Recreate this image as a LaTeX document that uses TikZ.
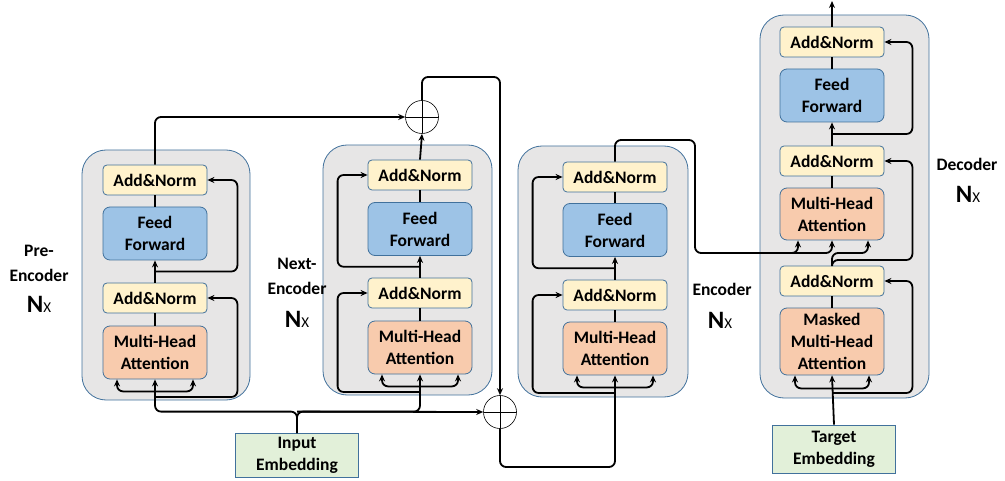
\documentclass[tikz,border=0pt]{standalone}
\usepackage{fontspec}
\setmainfont{Carlito}
\usetikzlibrary{arrows.meta,calc}
\definecolor{blkfill}{HTML}{E7E6E6}
\definecolor{bord}{HTML}{41719C}
\definecolor{anfill}{HTML}{FFF2CC}
\definecolor{fffill}{HTML}{9DC3E6}
\definecolor{mhfill}{HTML}{F8CBAD}
\definecolor{emfill}{HTML}{E2F0D9}
\newcommand\mynx{{\fontsize{25}{25}\selectfont\bfseries N}{\fontsize{15}{15}\selectfont X}}
\begin{document}
\begin{tikzpicture}[x=1pt,y=-1pt,
  box/.style={draw=bord, line width=0.8pt, rounded corners=4pt, minimum width=104pt, align=center, font=\fontsize{17.5}{22}\selectfont\bfseries, inner sep=0pt},
  an/.style={box, fill=anfill, minimum height=30pt},
  ffb/.style={box, fill=fffill, minimum height=53pt, rounded corners=7pt},
  mh/.style={box, fill=mhfill, minimum height=53pt, rounded corners=7pt},
  blkbox/.style={draw=bord, fill=blkfill, line width=0.8pt, rounded corners=24pt, inner sep=0pt},
  embbox/.style={draw=bord, fill=emfill, line width=0.8pt, minimum width=123pt, minimum height=44pt, align=center, font=\fontsize{17.5}{22}\selectfont\bfseries, inner sep=0pt},
  arr/.style={-{Stealth[length=7pt,width=6pt]}, line width=1.8pt, rounded corners=6pt},
  ln/.style={line width=1.8pt},
  lab/.style={font=\fontsize{17.5}{25}\selectfont\bfseries, align=center},
  plus/.style={circle, draw, line width=0.6pt, minimum size=33pt, inner sep=0pt,
    path picture={\draw[line width=0.6pt] (path picture bounding box.north) -- (path picture bounding box.south) (path picture bounding box.west) -- (path picture bounding box.east);}}
]
\useasboundingbox (0,0) rectangle (1005,481);

% outer blocks
\node[blkbox, minimum width=168pt, minimum height=250pt] (pe) at (166,275) {};
\node[blkbox, minimum width=169pt, minimum height=250pt] (ne) at (407.5,270) {};
\node[blkbox, minimum width=170pt, minimum height=251pt] (en) at (603,271.5) {};
\node[blkbox, minimum width=169pt, minimum height=383pt] (de) at (844.5,206.5) {};

% pre-encoder
\node[an] (pe-an2) at (155,180) {Add\&Norm};
\node[ffb] (pe-ff) at (155,233.5) {Feed\\Forward};
\node[an] (pe-an1) at (155,298) {Add\&Norm};
\node[mh] (pe-mha) at (155,352.5) {Multi-Head\\Attention};

% next-encoder
\node[an] (ne-an2) at (420,175) {Add\&Norm};
\node[ffb] (ne-ff) at (420,229) {Feed\\Forward};
\node[an] (ne-an1) at (420,293) {Add\&Norm};
\node[mh] (ne-mha) at (420,347.5) {Multi-Head\\Attention};

% encoder
\node[an] (en-an2) at (615,177) {Add\&Norm};
\node[ffb] (en-ff) at (615,230) {Feed\\Forward};
\node[an] (en-an1) at (615,295) {Add\&Norm};
\node[mh] (en-mha) at (615,348.5) {Multi-Head\\Attention};

% decoder
\node[an] (de-an3) at (832,42) {Add\&Norm};
\node[ffb] (de-ff) at (832,95.5) {Feed\\Forward};
\node[an] (de-an2) at (832,161) {Add\&Norm};
\node[mh, minimum height=52pt] (de-mha) at (832,214) {Multi-Head\\Attention};
\node[an] (de-an1) at (832,281) {Add\&Norm};
\node[mh, minimum height=67pt] (de-mmha) at (832,341.5) {Masked\\Multi-Head\\Attention};

% embeddings
\node[embbox] (emb) at (297,455.5) {Input\\Embedding};
\node[embbox, minimum height=48pt] (tgt) at (834,449) {Target\\Embedding};

% plus circles
\node[plus] (plus1) at (422,117) {};
\node[plus] (plus2) at (500,412) {};

% labels
\node[lab] (pe-lab) at (39,263) {Pre-\\Encoder};
\node (pe-nx) at (39,304) {\mynx};
\node[lab] (ne-lab) at (297,276) {Next-\\Encoder};
\node (ne-nx) at (297,319) {\mynx};
\node[lab] (en-lab) at (722,289) {Encoder};
\node (en-nx) at (720,320) {\mynx};
\node[lab] (de-lab) at (967,164) {Decoder};
\node (de-nx) at (968,194) {\mynx};

% coordinates
\coordinate (ij) at ($(emb.north)+(0,-21.5)$);
\coordinate (pj0) at (155,397);
\coordinate (pj1) at ($(pe-an1.north)!0.5!(pe-ff.south)$);
\coordinate (nj0) at (420,392);
\coordinate (nj1) at ($(ne-an1.north)!0.5!(ne-ff.south)$);
\coordinate (ej0) at (615,393);
\coordinate (ej1) at ($(en-an1.north)!0.5!(en-ff.south)$);
\coordinate (dj0) at (832,393);
\coordinate (dj2) at ($(de-an2.north)!0.5!(de-ff.south)$);
\coordinate (out) at (832,1);

% ---- pre-encoder connections
\draw[ln] (pe-mha.north) -- (pe-an1.south);
\draw[arr] (pe-an1.north) -- (pe-ff.south);
\draw[ln] (pe-ff.north) -- (pe-an2.south);
\draw[arr] (pj1) -| ($(pe-an2.east)+(30,0)$) -- (pe-an2.east);
\draw[arr] (pj0) -| ($(pe-an1.east)+(30,0)$) -- (pe-an1.east);
\draw[arr] ($(pe-mha.south)+(0,12)$) -| ($(pe-mha.south)+(-38,0)$);
\draw[arr] ($(pe-mha.south)+(0,12)$) -| ($(pe-mha.south)+(38,0)$);
\draw[arr] (pe-an2.north) |- (plus1.west);

% ---- input embedding
\draw[arr] (emb.north) -- (ij) -| (pe-mha.south);
\draw[arr] (emb.north) -- (ij) -- (plus2.west);
\draw[arr] (ij) -| (ne-mha.south);

% ---- next-encoder connections
\draw[ln] (ne-mha.north) -- (ne-an1.south);
\draw[arr] (ne-an1.north) -- (ne-ff.south);
\draw[ln] (ne-ff.north) -- (ne-an2.south);
\draw[arr] (nj1) -| ($(ne-an2.west)+(-30,0)$) -- (ne-an2.west);
\draw[arr] (nj0) -| ($(ne-an1.west)+(-30,0)$) -- (ne-an1.west);
\draw[arr] ($(ne-mha.south)+(0,12)$) -| ($(ne-mha.south)+(-38,0)$);
\draw[arr] ($(ne-mha.south)+(0,12)$) -| ($(ne-mha.south)+(38,0)$);
\draw[arr] (ne-an2.north) -- (plus1.south);

% ---- plus circles
\draw[arr] (plus1.north) |- (461,77) -| (plus2.north);
\draw[arr] (plus2.south) |- (560,467) -| (en-mha.south);

% ---- encoder connections
\draw[ln] (en-mha.north) -- (en-an1.south);
\draw[arr] (en-an1.north) -- (en-ff.south);
\draw[ln] (en-ff.north) -- (en-an2.south);
\draw[arr] (ej1) -| ($(en-an2.west)+(-30,0)$) -- (en-an2.west);
\draw[arr] (ej0) -| ($(en-an1.west)+(-30,0)$) -- (en-an1.west);
\draw[arr] ($(en-mha.south)+(0,12)$) -| ($(en-mha.south)+(-38,0)$);
\draw[arr] ($(en-mha.south)+(0,12)$) -| ($(en-mha.south)+(38,0)$);
\draw[arr] (en-an2.north) |- (695,140) |- (760,253) -| (de-mha.south);
\draw[arr] (760,253) -| ($(de-mha.south)+(-34,0)$);

% ---- decoder connections
\draw[arr] (tgt.north) -- (de-mmha.south);
\draw[arr] ($(de-mmha.south)+(0,13)$) -| ($(de-mmha.south)+(-37,0)$);
\draw[arr] ($(de-mmha.south)+(0,13)$) -| ($(de-mmha.south)+(37,0)$);
\draw[arr] (dj0) -| ($(de-an1.east)+(28,0)$) -- (de-an1.east);
\draw[ln] (de-mmha.north) -- (de-an1.south);
\draw[arr] (de-an1.north) |- ($(de-an2.east)+(28,99)$) -- ($(de-an2.east)+(28,0)$) -- (de-an2.east);
\draw[arr] (de-an1.north) |- (850,253) -| ($(de-mha.south)+(36,0)$);
\draw[ln] (de-mha.north) -- (de-an2.south);
\draw[arr] (de-an2.north) -- (de-ff.south);
\draw[arr] (dj2) -| ($(de-an3.east)+(28,0)$) -- (de-an3.east);
\draw[ln] (de-ff.north) -- (de-an3.south);
\draw[arr] (de-an3.north) -- (out);
\end{tikzpicture}
\end{document}
